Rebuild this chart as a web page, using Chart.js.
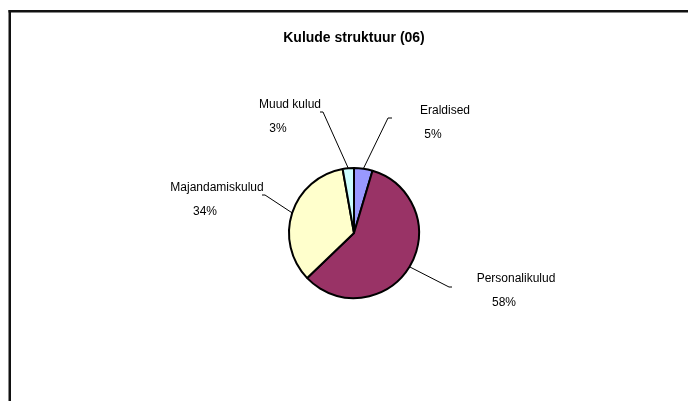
<!DOCTYPE html>
<html>
<head>
<meta charset="utf-8">
<script src="https://cdn.jsdelivr.net/npm/chart.js@4.4.1/dist/chart.umd.min.js"></script>
<style>
  html, body { margin: 0; padding: 0; background: #fff; }
  #wrap { width: 688px; height: 401px; position: relative; }
</style>
</head>
<body>
<div id="wrap"><canvas id="grafico"></canvas></div>
<script>
// Dados do gráfico
const kategooriad = ['Eraldised', 'Personalikulud', 'Majandamiskulud', 'Muud kulud'];
const osakaal = [4.6, 58.2, 34.4, 2.8];
const varvid = ['#9999FF', '#993366', '#FFFFCC', '#CCFFFF'];
const pealkiri = 'Kulude struktuur (06)';

// Onde fica cada rótulo (em relação ao centro da pizza)
const siltKoht = [
  { elbow: [34, -115], tail: 4, text: [91, -122] },
  { elbow: [95, 54], tail: 3, text: [162, 46] },
  { elbow: [-89, -38], tail: -3, text: [-137, -45] },
  { elbow: [-31, -121], tail: -3, text: [-64, -128] }
];

// moldura preta (topo e esquerda) + título
const moldura = {
  id: 'moldura',
  beforeDraw(chart) {
    const ctx = chart.ctx;
    ctx.save();
    ctx.fillStyle = '#fff';
    ctx.fillRect(0, 0, chart.width, chart.height);
    ctx.fillStyle = '#111';
    ctx.fillRect(8.5, 10, chart.width, 2.5);
    ctx.fillRect(8.5, 10, 2.5, chart.height);

    // título centrado sobre a pizza
    const cx = (chart.chartArea.left + chart.chartArea.right) / 2;
    ctx.fillStyle = '#000';
    ctx.font = 'bold 14px "Liberation Sans", Arial, sans-serif';
    ctx.textAlign = 'center';
    ctx.textBaseline = 'middle';
    ctx.fillText(pealkiri, cx, 38);
    ctx.restore();
  }
};

// rótulos com linhas de chamada
const rotulos = {
  id: 'rotulos',
  afterDatasetsDraw(chart) {
    const ctx = chart.ctx;
    const meta = chart.getDatasetMeta(0);
    const total = osakaal.reduce((a, b) => a + b, 0);
    ctx.save();
    meta.data.forEach((arc, i) => {
      const p = arc.getProps(['x', 'y', 'startAngle', 'endAngle', 'outerRadius'], true);
      const mid = (p.startAngle + p.endAngle) / 2;
      const sx = p.x + Math.cos(mid) * p.outerRadius;
      const sy = p.y + Math.sin(mid) * p.outerRadius;
      const k = siltKoht[i];
      const ex = p.x + k.elbow[0];
      const ey = p.y + k.elbow[1];
      ctx.strokeStyle = '#000';
      ctx.lineWidth = 1;
      ctx.beginPath();
      ctx.moveTo(sx, sy);
      ctx.lineTo(ex, ey);
      ctx.lineTo(ex + k.tail, ey);
      ctx.stroke();

      const tx = p.x + k.text[0];
      const ty = p.y + k.text[1];
      ctx.fillStyle = '#000';
      ctx.font = '12px "Liberation Sans", Arial, sans-serif';
      ctx.textAlign = 'center';
      ctx.textBaseline = 'middle';
      ctx.fillText(kategooriad[i], tx, ty);
      ctx.fillText(Math.round(osakaal[i] / total * 100) + '%', tx - 12, ty + 24);
    });
    ctx.restore();
  }
};

const dadosPizza = {
  labels: kategooriad,
  datasets: [{
    data: osakaal,
    backgroundColor: varvid,
    borderColor: '#000',
    borderWidth: 2
  }]
};

const configPizza = {
  type: 'pie',
  data: dadosPizza,
  options: {
    responsive: false,
    animation: false,
    events: [],
    layout: {
      padding: { left: 288, right: 268, top: 167, bottom: 102 }
    },
    plugins: {
      legend: { display: false },
      tooltip: { enabled: false },
      title: { display: false }
    }
  },
  plugins: [moldura, rotulos]
};

const cnv = document.getElementById('grafico');
cnv.width = 688;
cnv.height = 401;
const grafico = new Chart(cnv, configPizza);
</script>
</body>
</html>
